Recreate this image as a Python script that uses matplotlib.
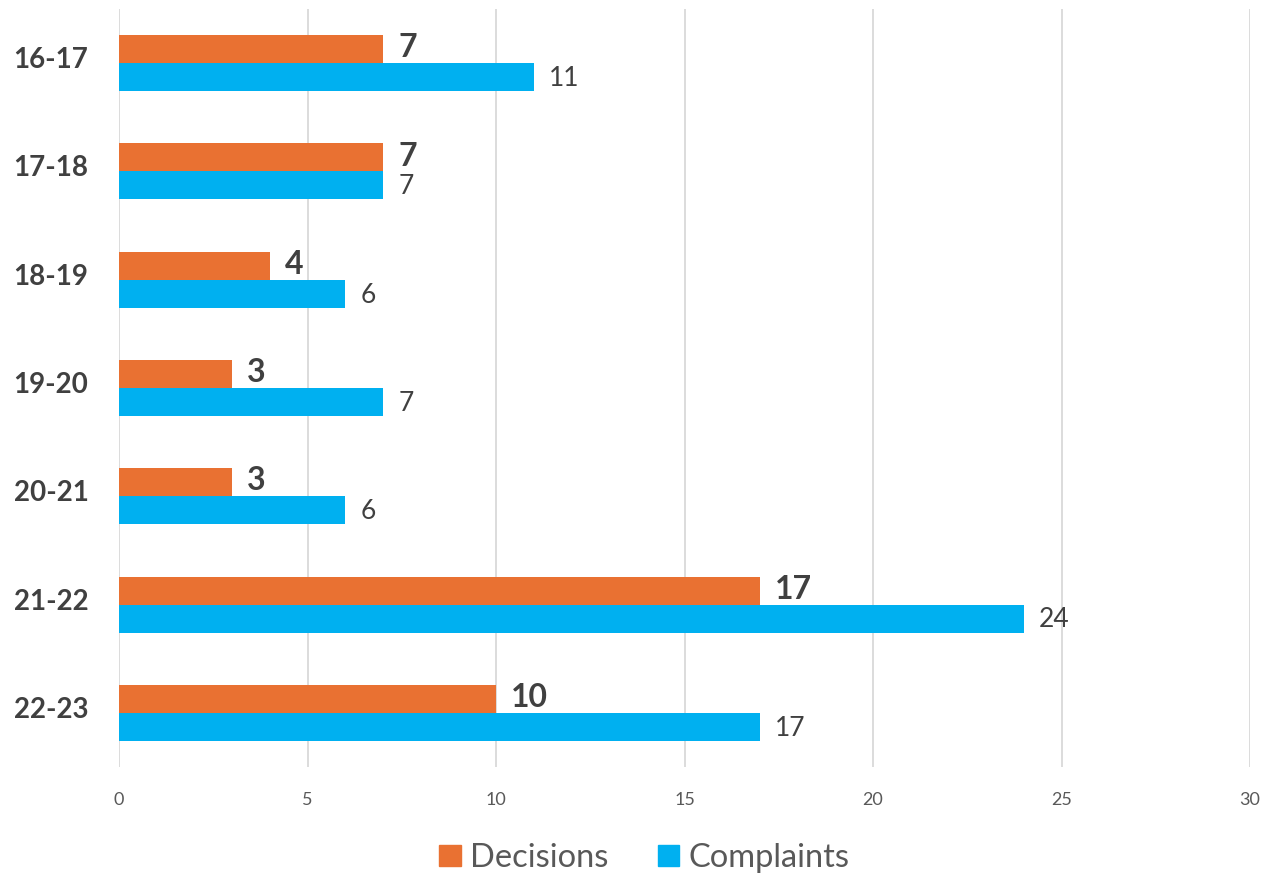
import matplotlib
matplotlib.use("Agg")
import matplotlib.pyplot as plt
from matplotlib.patches import Patch
import matplotlib.transforms as mtransforms
import numpy as np

categories = ["16-17", "17-18", "18-19", "19-20", "20-21", "21-22", "22-23"]
decisions = [7, 7, 4, 3, 3, 17, 10]
complaints = [11, 7, 6, 7, 6, 24, 17]
xticks = [0, 5, 10, 15, 20, 25, 30]

ORANGE = "#E97132"
BLUE = "#00B0F0"
TEXT = "#404040"
FONT = ["Lato", "DejaVu Sans"]
plt.rcParams["font.family"] = FONT

fig = plt.figure(figsize=(12.64, 8.76), dpi=100)
ax = fig.add_axes([119/1264, 1-767/876, (1250-119)/1264, (767-9)/876])

y = np.arange(len(categories))
h = 0.258
ax.barh(y - h/2, decisions, height=h, color=ORANGE, zorder=3)
ax.barh(y + h/2, complaints, height=h, color=BLUE, zorder=3)

for yi, d, c in zip(y, decisions, complaints):
    ax.annotate(str(d), (d, yi - h/2), xytext=(11, 1), textcoords="offset points",
                va="center", ha="left", fontsize=23, fontweight="bold", color=TEXT)
    ax.annotate(str(c), (c, yi + h/2), xytext=(11, -1), textcoords="offset points",
                va="center", ha="left", fontsize=19, color=TEXT)

ax.set_xlim(0, 30)
ax.set_ylim(len(categories) - 0.5, -0.5)
ax.set_xticks(xticks)
ax.set_xticklabels([str(t) for t in xticks], fontsize=13, color="#595959")
ax.set_yticks(y)
ax.set_yticklabels(categories, fontsize=20, fontweight="bold", color=TEXT)
ax.tick_params(axis="both", length=0)
ax.tick_params(axis="x", pad=18)
ax.tick_params(axis="y", pad=22)
offset = mtransforms.ScaledTranslation(0, 4/72, fig.dpi_scale_trans)
for lbl in ax.get_yticklabels():
    lbl.set_transform(lbl.get_transform() + offset)
ax.grid(axis="x", color="#D9D9D9", linewidth=1.3, zorder=0)
for s in ax.spines.values():
    s.set_visible(False)

handles = [Patch(color=ORANGE, label="Decisions"), Patch(color=BLUE, label="Complaints")]
fig.legend(handles=handles, loc="center", bbox_to_anchor=(0.51, 1-858/876), ncol=2,
           frameon=False, fontsize=23.5, handlelength=0.65, handleheight=0.65,
           handletextpad=0.3, columnspacing=1.5, labelcolor="#595959")

fig.savefig("out.png", dpi=100)
